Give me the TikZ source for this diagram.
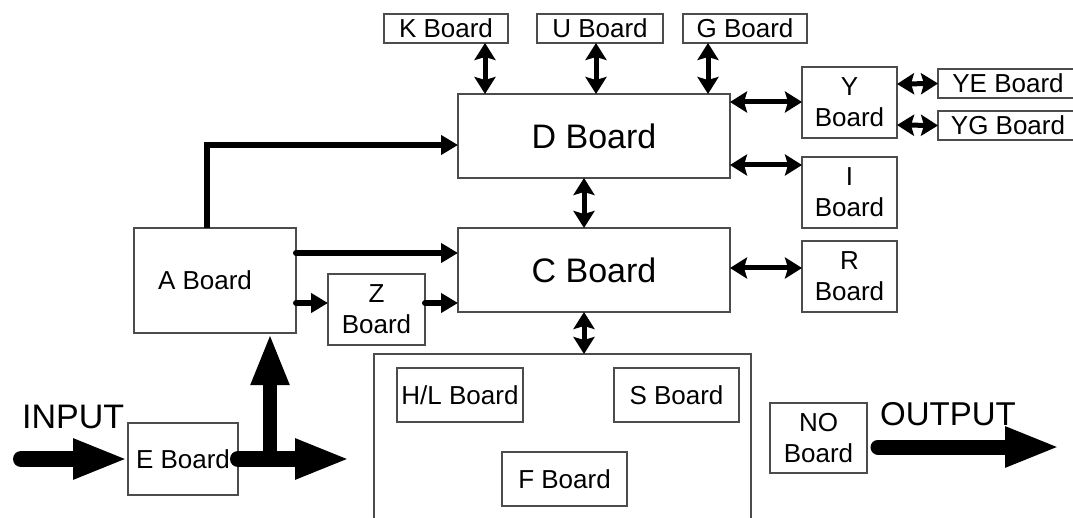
\documentclass[tikz,border=0pt]{standalone}
\usepackage{fontspec}
\setmainfont{Liberation Sans}
\usetikzlibrary{arrows.meta,positioning}

\begin{document}
\begin{tikzpicture}[
            x=1pt, y=1pt,
            box/.style={rectangle, draw=black!70, line width=1.2pt, fill=white, align=center, inner sep=0pt, outer sep=0pt, font=\fontsize{26pt}{31pt}\selectfont},
            big/.style={minimum width=272pt, minimum height=84pt, font=\fontsize{34pt}{40pt}\selectfont},
            tag/.style={minimum width=124pt, minimum height=29pt},
            side/.style={minimum width=95pt, minimum height=71pt},
            inner/.style={minimum width=125pt, minimum height=54pt},
            group/.style={rectangle, draw=black!70, line width=1.2pt, outer sep=0pt, minimum width=377pt, minimum height=190pt},
            label/.style={inner sep=0pt, anchor=base west, font=\fontsize{34pt}{40pt}\selectfont},
            arrow/.style={line width=6pt, line cap=round, -{Triangle[length=17pt,width=19pt]}},
            dblarrow/.style={line width=5pt, {Stealth[length=17pt,width=21pt,inset=3pt]}-{Stealth[length=17pt,width=21pt,inset=3pt]}},
            bigarrow/.style={line width=16pt, line cap=round, -{Triangle[length=55pt,width=37pt]}}
        ]
            \useasboundingbox (0,0) rectangle (1073,-518);

            % --- D / C ---
            \node[box, big] (D) at (594,-136) {D Board};
            \node[box, big, below=50pt of D] (C) {C Board};

            % --- TOP ROW ---
            \node[box, tag] (K) at (446,-28.5) {K Board};
            \node[box, tag, minimum width=126pt, right=29pt of K] (U) {U Board};
            \node[box, tag, right=20pt of U] (G) {G Board};

            % --- RIGHT SIDE ---
            \node[box, side] (Y) at (849.5,-102.5) {Y\\Board};
            \node[box, side, below=19pt of Y] (I) {I\\Board};
            \node[box, side, below=13pt of I] (R) {R\\Board};
            \node[box, tag, minimum width=140pt, anchor=west] (YE) at (938,-83.5) {YE Board};
            \node[box, tag, minimum width=140pt, below=13pt of YE] (YG) {YG Board};

            % --- LEFT SIDE ---
            \node[box, minimum width=162pt, minimum height=105pt] (A) at (215,-280.5) {A Board\hspace*{20pt}};
            \node[box, side, minimum width=97pt] (Z) at (376.5,-309.5) {Z\\Board};
            \node[box, minimum width=110pt, minimum height=72pt] (E) at (183,-459) {E Board};

            % --- BOTTOM GROUP ---
            \node[group] (FG) at (562.5,-449) {};
            \node[box, inner, minimum width=126pt] (HL) at (460,-395) {H/L Board};
            \node[box, inner] (S) at (676.5,-395) {S Board};
            \node[box, inner] (F) at (564.5,-479) {F Board};

            \node[box, minimum width=97pt, minimum height=70pt] (NO) at (818.5,-438) {NO\\Board};

            % --- TEXTS ---
            \node[label] (input) at (22,-428) {INPUT};
            \node[label, font=\fontsize{33pt}{40pt}\selectfont] (output) at (880,-425) {OUTPUT};

            % --- LINKS ---
            \draw[dblarrow] ([xshift=39pt]K.south) -- ([xshift=-109pt]D.north);
            \draw[dblarrow] ([xshift=-4pt]U.south) -- ([xshift=2pt]D.north);
            \draw[dblarrow] ([xshift=-37pt]G.south) -- ([xshift=114pt]D.north);
            \draw[dblarrow] ([yshift=34pt]D.east) -- ([yshift=0.5pt]Y.west);
            \draw[dblarrow] ([yshift=-29pt]D.east) -- ([yshift=27.5pt]I.west);
            \draw[dblarrow] ([yshift=2pt]C.east) -- ([yshift=8.5pt]R.west);
            \draw[dblarrow] ([yshift=18.5pt]Y.east) -- (YE.west);
            \draw[dblarrow] ([yshift=-22.5pt]Y.east) -- (YG.west);
            \draw[dblarrow] ([xshift=-10pt]D.south) -- ([xshift=-10pt]C.north);
            \draw[dblarrow] ([xshift=-10pt]C.south) -- ([xshift=21.5pt]FG.north);

            % A board outputs
            \draw[arrow, line cap=butt] ([xshift=-8pt]A.north) |- ([yshift=-9pt]D.west);
            \draw[arrow] ([yshift=27.5pt]A.east) -- ([yshift=17pt]C.west);
            \draw[arrow] ([yshift=-22.5pt]A.east) -- ([yshift=6.5pt]Z.west);
            \draw[arrow] ([yshift=6.5pt]Z.east) -- ([yshift=-33pt]C.west);

            % input / output
            \coordinate (in) at (21,-459);
            \coordinate (split) at (270,-459);
            \coordinate (eout) at (350,-459);
            \coordinate (oend) at (1060,-447);
            \draw[bigarrow] (in) -- (E.west);
            \draw[bigarrow] (E.east) -- (eout);
            \draw[bigarrow, line width=14pt, line cap=butt, -{Triangle[length=52pt,width=35pt]}] (split) -- (split |- A.south);
            \draw[bigarrow, line width=15pt] ([xshift=11pt,yshift=-9pt]NO.east) -- (oend);

        \end{tikzpicture}
\end{document}
